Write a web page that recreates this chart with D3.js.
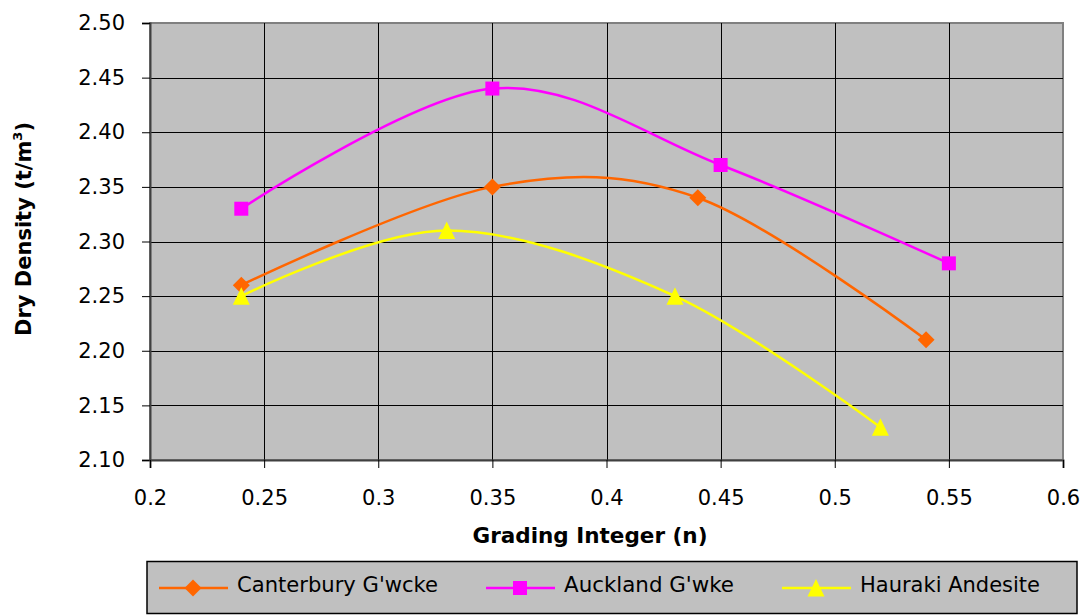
<!DOCTYPE html>
<html>
<head>
<meta charset="utf-8">
<script src="https://cdn.jsdelivr.net/npm/d3@7"></script>
<style>
	body { margin: 0; background: #fff; }
	svg { display: block; font-family: "DejaVu Sans", Verdana, sans-serif; }
</style>
</head>
<body>
<div id="wrapper"></div>
<script>
	// chart values
	const seriesNames = ["Canterbury G'wcke", "Auckland G'wke", "Hauraki Andesite"];
	const canterburyX = [0.24, 0.35, 0.44, 0.54];
	const canterburyY = [2.26, 2.35, 2.34, 2.21];
	const aucklandX = [0.24, 0.35, 0.45, 0.55];
	const aucklandY = [2.33, 2.44, 2.37, 2.28];
	const haurakiX = [0.24, 0.33, 0.43, 0.52];
	const haurakiY = [2.25, 2.31, 2.25, 2.13];
	const xTicks = [0.2, 0.25, 0.3, 0.35, 0.4, 0.45, 0.5, 0.55, 0.6];
	const yTicks = [2.10, 2.15, 2.20, 2.25, 2.30, 2.35, 2.40, 2.45, 2.50];

	(() => {
		const width = 1091, height = 615;
		const plot = { left: 150, top: 23, right: 1063, bottom: 460 };

		const svg = d3.select('#wrapper').append('svg')
			.attr('width', width)
			.attr('height', height);

		const x = d3.scaleLinear().domain([0.2, 0.6]).range([plot.left, plot.right]);
		const y = d3.scaleLinear().domain([2.10, 2.50]).range([plot.bottom, plot.top]);

		const series = [
			{ name: seriesNames[0], xs: canterburyX, ys: canterburyY, color: '#FF6600', marker: 'diamond' },
			{ name: seriesNames[1], xs: aucklandX, ys: aucklandY, color: '#FF00FF', marker: 'square' },
			{ name: seriesNames[2], xs: haurakiX, ys: haurakiY, color: '#FFFF00', marker: 'triangle' }
		];

		// plot background
		svg.append('rect')
			.attr('x', plot.left)
			.attr('y', plot.top)
			.attr('width', plot.right - plot.left)
			.attr('height', plot.bottom - plot.top)
			.attr('fill', '#C0C0C0')
			.attr('stroke', '#808080')
			.attr('stroke-width', 2);

		// grid lines
		svg.append('g')
			.selectAll('line')
			.data(yTicks.slice(1, -1))
			.enter()
			.append('line')
			.attr('x1', plot.left).attr('x2', plot.right)
			.attr('y1', (d) => Math.round(y(d)) + 0.5)
			.attr('y2', (d) => Math.round(y(d)) + 0.5)
			.attr('stroke', '#000')
			.attr('stroke-width', 1);

		svg.append('g')
			.selectAll('line')
			.data(xTicks.slice(1, -1))
			.enter()
			.append('line')
			.attr('y1', plot.top).attr('y2', plot.bottom)
			.attr('x1', (d) => Math.round(x(d)) + 0.5)
			.attr('x2', (d) => Math.round(x(d)) + 0.5)
			.attr('stroke', '#000')
			.attr('stroke-width', 1);

		// axes
		const yAxis = d3.axisLeft(y)
			.tickValues(yTicks)
			.tickSize(8)
			.tickPadding(17)
			.tickFormat(d3.format('.2f'));
		const yg = svg.append('g')
			.attr('transform', `translate(${plot.left},0)`)
			.call(yAxis);

		const xAxis = d3.axisBottom(x)
			.tickValues(xTicks)
			.tickSize(8)
			.tickPadding(22)
			.tickFormat((d) => String(+d.toFixed(2)));
		const xg = svg.append('g')
			.attr('transform', `translate(0,${plot.bottom})`)
			.call(xAxis);

		[yg, xg].forEach((g) => {
			g.select('.domain').attr('stroke', '#404040').attr('stroke-width', 2);
			g.selectAll('.tick line').attr('stroke', '#000');
			g.selectAll('.tick text')
				.attr('fill', '#000')
				.style('font-size', '21px')
				.style('font-family', '"DejaVu Sans", Verdana, sans-serif');
		});

		// axis titles
		svg.append('text')
			.attr('x', 590)
			.attr('y', 543)
			.attr('text-anchor', 'middle')
			.attr('textLength', 235)
			.attr('lengthAdjust', 'spacingAndGlyphs')
			.style('font-size', '21px')
			.style('font-weight', 'bold')
			.text('Grading Integer (n)');

		const yTitle = svg.append('text')
			.attr('transform', `translate(31,229) rotate(-90)`)
			.attr('text-anchor', 'middle')
			.style('font-size', '21px')
			.style('font-weight', 'bold');
		yTitle.append('tspan').text('Dry Density (t/m');
		yTitle.append('tspan').text('3').style('font-size', '13px').attr('dy', '-9');
		yTitle.append('tspan').text(')').attr('dy', '9');

		// markers
		const markerPath = (type, cx, cy) => {
			if (type === 'diamond') {
				const r = 8.5;
				return `M${cx},${cy - r}L${cx + r},${cy}L${cx},${cy + r}L${cx - r},${cy}Z`;
			}
			if (type === 'square') {
				const r = 7;
				return `M${cx - r},${cy - r}h${2 * r}v${2 * r}h${-2 * r}Z`;
			}
			const r = 8.5;
			return `M${cx},${cy - 9}L${cx + r},${cy + 8.5}L${cx - r},${cy + 8.5}Z`;
		};

		const line = d3.line()
			.x((d) => x(d[0]))
			.y((d) => y(d[1]))
			.curve(d3.curveCardinal.tension(0));

		series.forEach((s) => {
			const pts = s.xs.map((v, i) => [v, s.ys[i]]);
			const g = svg.append('g');
			g.append('path')
				.attr('d', line(pts))
				.attr('fill', 'none')
				.attr('stroke', s.color)
				.attr('stroke-width', 2.5);
			g.selectAll('path.marker')
				.data(pts)
				.enter()
				.append('path')
				.attr('class', 'marker')
				.attr('d', (d) => markerPath(s.marker, x(d[0]), y(d[1])))
				.attr('fill', s.color);
		});

		// legend
		const legend = svg.append('g');
		legend.append('rect')
			.attr('x', 147)
			.attr('y', 561.5)
			.attr('width', 930)
			.attr('height', 52)
			.attr('fill', '#C0C0C0')
			.attr('stroke', '#000')
			.attr('stroke-width', 1.5);

		const legendX = [159, 486, 782];
		const legendW = [201, 170, 180];
		series.forEach((s, i) => {
			const x0 = legendX[i];
			const ly = 588;
			const item = legend.append('g');
			item.append('line')
				.attr('x1', x0).attr('x2', x0 + 69)
				.attr('y1', ly).attr('y2', ly)
				.attr('stroke', s.color)
				.attr('stroke-width', 2.5);
			item.append('path')
				.attr('d', markerPath(s.marker, x0 + 34, ly))
				.attr('fill', s.color);
			item.append('text')
				.attr('x', x0 + 78)
				.attr('y', 592)
				.attr('textLength', legendW[i])
				.attr('lengthAdjust', 'spacingAndGlyphs')
				.style('font-size', '21px')
				.text(s.name);
		});
	})();
</script>
</body>
</html>
